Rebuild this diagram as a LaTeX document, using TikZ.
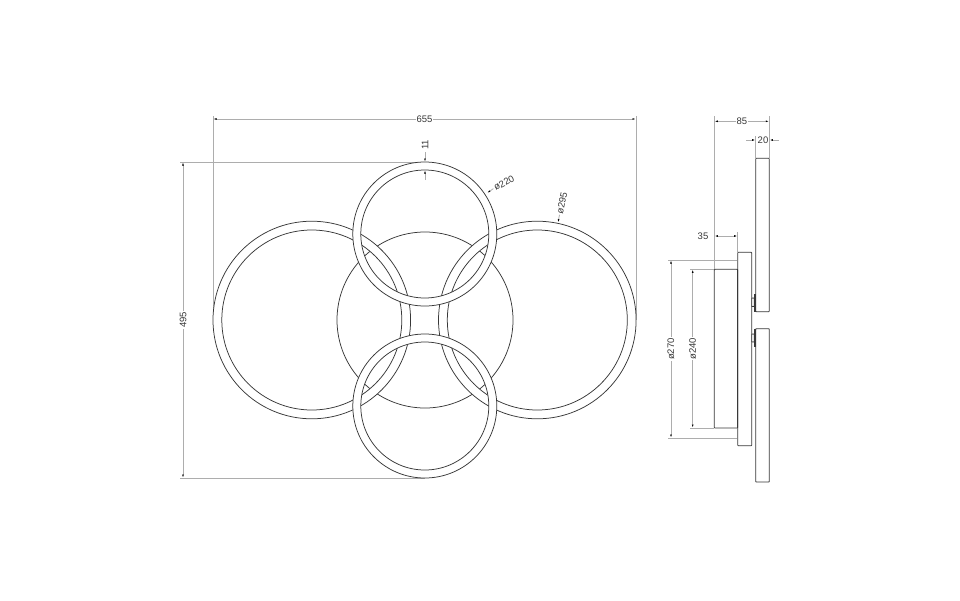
\documentclass[tikz,border=0pt]{standalone}
\usepackage{fontspec}
\setmainfont{Liberation Sans}
\usetikzlibrary{arrows.meta}
\definecolor{dimgray}{gray}{0.68}
\definecolor{ink}{gray}{0.22}
\tikzset{
  x=1pt,y=-1pt,
  ringline/.style={draw=ink,line width=0.75pt,fill=white,even odd rule},
  body/.style={draw=ink,line width=0.8pt,fill=white,rounded corners=0.6pt},
  extline/.style={draw=dimgray,line width=0.8pt},
  dimline/.style={draw=dimgray,line width=0.8pt},
  dimarrow/.style={dimline,{Latex[length=3.5pt,width=1.8pt,black]}-{Latex[length=3.5pt,width=1.8pt,black]}},
  onetip/.style={dimline,-{Latex[length=3.5pt,width=1.8pt,black]}},
  dimtext/.style={font=\fontsize{9.5}{11}\selectfont,text=ink,inner sep=1pt,fill=white},
  bare/.style={font=\fontsize{9.5}{11}\selectfont,text=ink,inner sep=1pt}
}
\begin{document}
\begin{tikzpicture}
\useasboundingbox (0,0) rectangle (960,600);
% front view
\coordinate (cL) at (311.8,320);
\coordinate (cR) at (537.3,320);
\coordinate (cT) at (424.8,234);
\coordinate (cB) at (424.8,406);
\coordinate (cD) at (425,320);
% extension lines
\coordinate (x1a) at (213,116); \coordinate (x1b) at (213,320);
\coordinate (x2a) at (636,116); \coordinate (x2b) at (636,320);
\coordinate (y1a) at (180,162); \coordinate (y1b) at (425,162);
\coordinate (y2a) at (180,478); \coordinate (y2b) at (425,478);
\draw[extline] (x1a)--(x1b);
\draw[extline] (x2a)--(x2b);
\draw[extline] (y1a)--(y1b);
\draw[extline] (y2a)--(y2b);
% disc and rings
\draw[ringline] (cD) circle[radius=88];
\draw[ringline] (cL) circle[radius=98.8] (cL) circle[radius=90];
\draw[ringline] (cR) circle[radius=98.8] (cR) circle[radius=90];
\draw[ringline] (cT) circle[radius=72] (cT) circle[radius=64];
\draw[ringline] (cB) circle[radius=72] (cB) circle[radius=64];
% 655
\coordinate (d655a) at (213,119); \coordinate (d655b) at (636,119);
\draw[dimarrow] (d655a)--(d655b) node[midway,dimtext] {655};
% 495
\coordinate (d495a) at (183,162); \coordinate (d495b) at (183,478);
\draw[dimarrow] (d495a)--(d495b) node[midway,dimtext,rotate=90] {495};
% 11
\node[bare,rotate=90] (t11) at (425,145) {11};
\coordinate (t11a) at (425,152); \coordinate (t11b) at (425,162);
\coordinate (t11c) at (425,180); \coordinate (t11d) at (425,170);
\draw[onetip] (t11a)--(t11b);
\draw[onetip] (t11c)--(t11d);
% 220
\node[bare,rotate=28] (t220) at (504,183) {ø220};
\coordinate (p220) at (487,193);
\draw[onetip] (t220.west)--(p220);
% 295
\node[bare,rotate=78] (t295) at (562,203) {ø295};
\coordinate (p295) at (558,222.7);
\draw[onetip] (t295.west)--(p295);
% side view
\draw[body] (755.7,158.3) rectangle (769.3,311.7);
\draw[body] (755.7,328.7) rectangle (769.3,482);
\draw[body] (737.7,252.3) rectangle (751.7,445.7);
\draw[body] (714.3,269.3) rectangle (737.7,428);
\draw[ink,line width=1.2pt] (737.7,269.3)--(737.7,428);
\draw[body] (751.7,298) rectangle (754.3,306.5);
\draw[body] (751.7,334) rectangle (754.3,342);
\draw[ink,line width=1.5pt] (755.2,294)--(755.2,311.7);
\draw[ink,line width=1.5pt] (755.2,329)--(755.2,347);
% side dims
\coordinate (e1a) at (714.3,116); \coordinate (e1b) at (714.3,269.3);
\coordinate (e2a) at (769.3,116); \coordinate (e2b) at (769.3,158.3);
\coordinate (e3a) at (755.7,136); \coordinate (e3b) at (755.7,158.3);
\coordinate (e4a) at (737.7,232); \coordinate (e4b) at (737.7,252.3);
\draw[extline] (e1a)--(e1b);
\draw[extline] (e2a)--(e2b);
\draw[extline] (e3a)--(e3b);
\draw[extline] (e4a)--(e4b);
\coordinate (d85a) at (714.3,121.3); \coordinate (d85b) at (769.3,121.3);
\draw[dimarrow] (d85a)--(d85b) node[midway,dimtext] {85};
\node[bare] (t20) at (763,140) {20};
\coordinate (a20) at (746,140); \coordinate (b20) at (755.7,140);
\coordinate (c20) at (779,140); \coordinate (f20) at (769.3,140);
\draw[onetip] (a20)--(b20);
\draw[onetip] (c20)--(f20);
\node[bare] (t35) at (703,236) {35};
\coordinate (d35a) at (714.3,236); \coordinate (d35b) at (737.7,236);
\draw[dimarrow] (d35a)--(d35b);
\coordinate (h1a) at (668,260); \coordinate (h1b) at (737,260);
\coordinate (h2a) at (668,438); \coordinate (h2b) at (737,438);
\coordinate (h3a) at (690,269.3); \coordinate (h3b) at (714.3,269.3);
\coordinate (h4a) at (690,428); \coordinate (h4b) at (714.3,428);
\draw[extline] (h1a)--(h1b);
\draw[extline] (h2a)--(h2b);
\draw[extline] (h3a)--(h3b);
\draw[extline] (h4a)--(h4b);
\coordinate (d270a) at (671,260); \coordinate (d270b) at (671,438);
\draw[dimarrow] (d270a)--(d270b) node[midway,dimtext,rotate=90] {ø270};
\coordinate (d240a) at (692.7,269.3); \coordinate (d240b) at (692.7,428);
\draw[dimarrow] (d240a)--(d240b) node[midway,dimtext,rotate=90] {ø240};
\end{tikzpicture}
\end{document}
